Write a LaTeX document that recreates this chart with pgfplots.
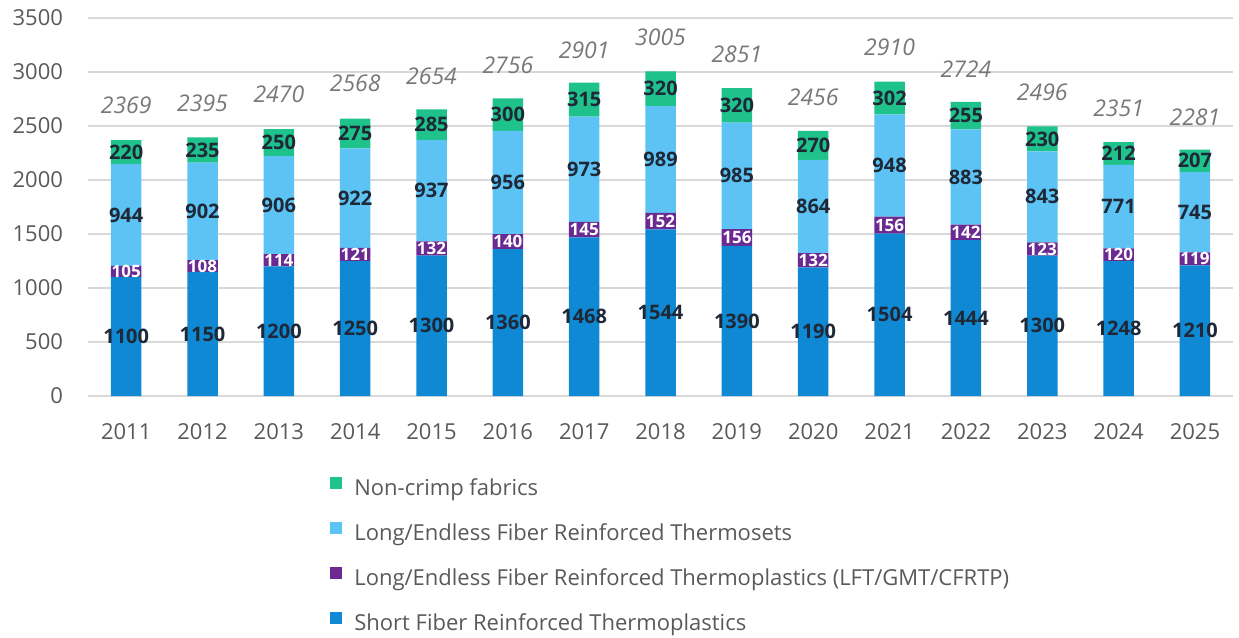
\documentclass[border=0pt]{standalone}
\usepackage{pgfplots}
\pgfplotsset{compat=1.18}
\usepackage{pgfplotstable}
\usepackage{fontspec}
\setmainfont{Open Sans}
\definecolor{sfc}{RGB}{15,137,211}
\definecolor{ltc}{RGB}{107,42,146}
\definecolor{lfc}{RGB}{92,195,244}
\definecolor{ncc}{RGB}{31,194,139}
\definecolor{txtgray}{RGB}{89,89,89}
\definecolor{totgray}{RGB}{120,120,120}
\definecolor{lbl}{RGB}{30,40,55}
\definecolor{gridc}{RGB}{217,217,217}

\pgfplotstableread{
year sf lt lf nc total ly
2011 1100 105 944 220 2369 2689
2012 1150 108 902 235 2395 2713
2013 1200 114 906 250 2470 2790
2014 1250 121 922 275 2568 2896
2015 1300 132 937 285 2654 2960
2016 1360 140 956 300 2756 3061
2017 1468 145 973 315 2901 3198
2018 1544 152 989 320 3005 3326
2019 1390 156 985 320 2851 3162
2020 1190 132 864 270 2456 2768
2021 1504 156 948 302 2910 3229
2022 1444 142 883 255 2724 3030
2023 1300 123 843 230 2496 2814
2024 1248 120 771 212 2351 2662
2025 1210 119 745 207 2281 2585
}\datatable

\pgfplotsset{
  sqlegend/.style={legend image code/.code={\fill[##1] (0pt,0.8pt) rectangle (6pt,6.8pt); \path (12pt,0pt);}},
  seglabel/.style={nodes near coords, point meta=explicit,
    nodes near coords align={center},
    every node near coord/.append style={anchor=center}},
}

\begin{document}
\begin{tikzpicture}
\begin{axis}[
  x=38.17pt, y=0.054pt,
  xmin=2010.5, xmax=2025.5, ymin=0, ymax=3500,
  ybar stacked, bar width=15.25pt,
  xtick=data, ytick={0,500,...,3500},
  ymajorgrids, grid style={gridc, line width=0.75pt},
  axis line style={draw=none}, major tick length=0pt,
  tick label style={font=\fontsize{11}{13}\selectfont, text=txtgray},
  yticklabel style={xshift=-9pt},
  xticklabel style={yshift=-10pt},
  /pgf/number format/1000 sep={},
  /pgf/number format/assume math mode=true,
  reverse legend,
  legend cell align=left,
  legend style={draw=none, fill=none, at={(0.2113,-0.213)}, anchor=north west,
    inner sep=0pt, row sep=10.25pt,
    font=\fontsize{11}{13}\selectfont, text=txtgray,
    nodes={inner sep=0pt, text height=8pt, text depth=3pt}},
]
\coordinate (bbsw) at (rel axis cs:0,0);
\addplot[fill=sfc, draw=none, sqlegend, seglabel,
  every node near coord/.append style={font=\fontsize{10}{12}\selectfont\bfseries, text=lbl}]
  table[x=year, y=sf, meta=sf] {\datatable};
\addlegendentry{Short Fiber Reinforced Thermoplastics}
\addplot[fill=ltc, draw=none, sqlegend, seglabel,
  every node near coord/.append style={font=\fontsize{8.5}{10}\selectfont\bfseries, text=white}]
  table[x=year, y=lt, meta=lt] {\datatable};
\addlegendentry{Long/Endless Fiber Reinforced Thermoplastics (LFT/GMT/CFRTP)}
\addplot[fill=lfc, draw=none, sqlegend, seglabel,
  every node near coord/.append style={font=\fontsize{10}{12}\selectfont\bfseries, text=lbl}]
  table[x=year, y=lf, meta=lf] {\datatable};
\addlegendentry{Long/Endless Fiber Reinforced Thermosets}
\addplot[fill=ncc, draw=none, sqlegend, seglabel,
  every node near coord/.append style={font=\fontsize{10}{12}\selectfont\bfseries, text=lbl}]
  table[x=year, y=nc, meta=nc] {\datatable};
\addlegendentry{Non-crimp fabrics}
\end{axis}
\begin{axis}[
  x=38.17pt, y=0.054pt,
  xmin=2010.5, xmax=2025.5, ymin=0, ymax=3500,
  hide axis,
]
\addplot[only marks, mark=*, mark size=0pt, mark options={draw=none, fill=none},
  nodes near coords, point meta=explicit symbolic,
  nodes near coords align={center},
  every node near coord/.append style={anchor=center, font=\fontsize{11.5}{13}\selectfont\itshape, text=totgray}]
  table[x=year, y=ly, meta=total] {\datatable};
\end{axis}
\pgfresetboundingbox
\path[use as bounding box] (bbsw) ++(-44pt,-121pt) rectangle ++(619.5pt,319pt);
\end{tikzpicture}
\end{document}
